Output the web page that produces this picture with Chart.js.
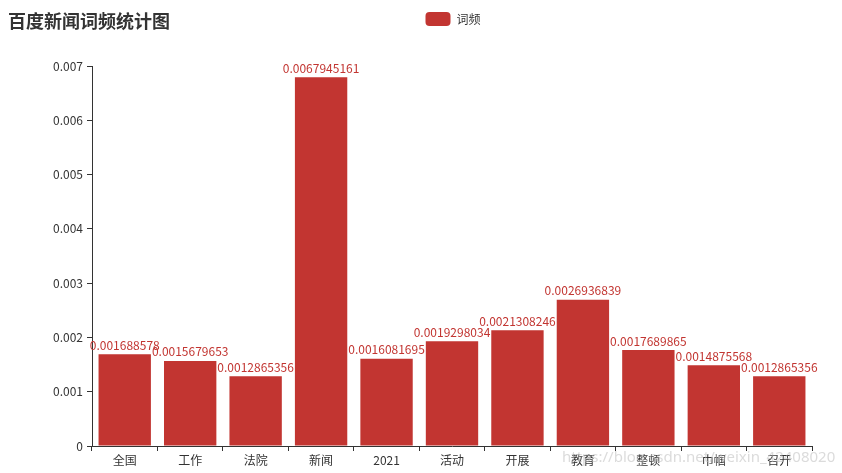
<!DOCTYPE html>
<html>
<head>
<meta charset="utf-8">
<script src="https://cdn.jsdelivr.net/npm/chart.js@4/dist/chart.umd.min.js"></script>
<style>
  html, body { margin: 0; padding: 0; background: #fff; }
  #wrap { position: relative; width: 842px; height: 473px; }
  #title { position: absolute; left: 8px; top: 7px; font: bold 18px "Noto Sans CJK SC", sans-serif; color: #333; }
  #mark { position: absolute; left: 562px; top: 446px; font: 15px "Noto Sans", sans-serif; color: rgba(190,190,190,0.55); white-space: nowrap; }
</style>
</head>
<body>
<div id="wrap">
  <canvas id="chart" width="842" height="473"></canvas>
  <div id="title">百度新闻词频统计图</div>
  <div id="mark">https://blog.csdn.net/weixin_42408020</div>
</div>
<script>
// Data
const categories = ['全国', '工作', '法院', '新闻', '2021', '活动', '开展', '教育', '整顿', '巾帼', '召开'];
const frequencies = [0.001688578, 0.0015679653, 0.0012865356, 0.0067945161, 0.0016081695,
  0.0019298034, 0.0021308246, 0.0026936839, 0.0017689865, 0.0014875568, 0.0012865356];
const seriesName = '词频';
const yTicks = [0, 0.001, 0.002, 0.003, 0.004, 0.005, 0.006, 0.007];

const barColor = '#c23531';
const font = '"Noto Sans CJK SC", sans-serif';

// draw value labels above bars
const valueLabels = {
  id: 'valueLabels',
  afterDatasetsDraw(chart) {
    const ctx = chart.ctx;
    const meta = chart.getDatasetMeta(0);
    ctx.save();
    ctx.font = '12px ' + font;
    ctx.fillStyle = barColor;
    ctx.textAlign = 'center';
    ctx.textBaseline = 'bottom';
    meta.data.forEach((bar, i) => {
      ctx.fillText(String(frequencies[i]), bar.x, bar.y - 3);
    });
    ctx.restore();
  }
};

// push the plot down below the legend and move the legend to the page centre
const legendGap = {
  id: 'legendGap',
  afterInit(chart) {
    const legend = chart.legend;
    const fit = legend.fit;
    legend.fit = function () {
      fit.call(this);
      this.height += 30;
    };
  },
  beforeDraw(chart) {
    const legend = chart.legend;
    legend.left += 47;
    legend.right += 47;
  },
  afterDraw(chart) {
    const legend = chart.legend;
    legend.left -= 47;
    legend.right -= 47;
  }
};

new Chart(document.getElementById('chart'), {
  type: 'bar',
  data: {
    labels: categories,
    datasets: [{
      label: seriesName,
      data: frequencies,
      backgroundColor: barColor,
      categoryPercentage: 0.8,
      barPercentage: 1.0
    }]
  },
  options: {
    responsive: false,
    animation: false,
    layout: { padding: { left: 0, right: 30, top: 2, bottom: 0 } },
    plugins: {
      legend: {
        position: 'top',
        labels: {
          boxWidth: 25,
          boxHeight: 14,
          useBorderRadius: true,
          borderRadius: 4,
          color: '#333',
          font: { family: font, size: 12 }
        }
      },
      tooltip: { enabled: false }
    },
    scales: {
      x: {
        grid: { display: true, drawOnChartArea: false, drawTicks: true, tickLength: 5, color: '#333', offset: true },
        border: { color: '#333' },
        ticks: { color: '#333', font: { family: font, size: 12 }, padding: 2, maxRotation: 0, autoSkip: false },
        afterFit(scale) { scale.height = 27; }
      },
      y: {
        min: 0,
        max: 0.007,
        afterBuildTicks(scale) { scale.ticks = yTicks.map(v => ({ value: v })); },
        grid: { display: true, drawOnChartArea: false, drawTicks: true, tickLength: 5, color: '#333' },
        border: { color: '#333' },
        ticks: {
          color: '#333',
          font: { family: font, size: 12 },
          padding: 4,
          callback: v => String(+v.toFixed(3))
        },
        afterFit(scale) { scale.width = 92; }
      }
    }
  },
  plugins: [valueLabels, legendGap]
});
</script>
</body>
</html>
